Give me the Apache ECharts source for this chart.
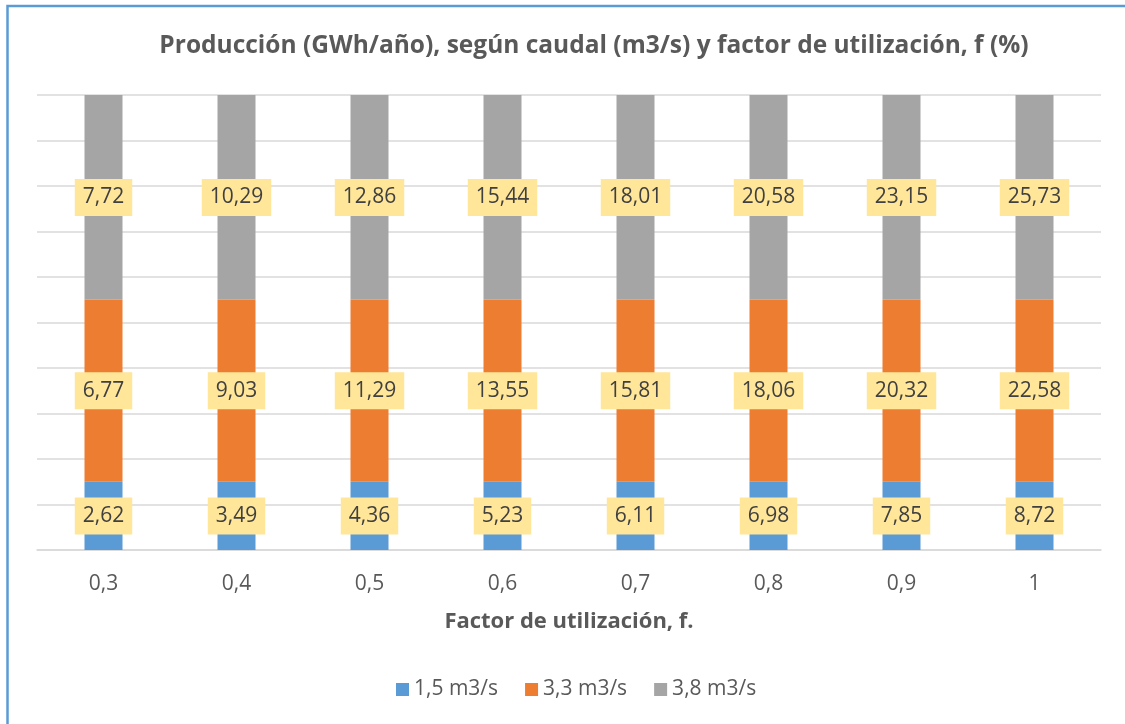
<!DOCTYPE html>
<html>
<head>
<meta charset="utf-8">
<script src="https://cdn.jsdelivr.net/npm/echarts@6/dist/echarts.min.js"></script>
<style>
  html, body { margin: 0; padding: 0; background: #fff; }
  #chart { width: 1125px; height: 724px; }
</style>
</head>
<body>
<div id="chart"></div>
<script>
// factor de utilizacion (categories)
var categories = ['0,3', '0,4', '0,5', '0,6', '0,7', '0,8', '0,9', '1']
var seriesNames = ['1,5 m3/s', '3,3 m3/s', '3,8 m3/s']

// segment heights as drawn in the picture (same for every column)
var height15 = [1.5, 1.5, 1.5, 1.5, 1.5, 1.5, 1.5, 1.5]
var height33 = [4, 4, 4, 4, 4, 4, 4, 4]
var height38 = [4.5, 4.5, 4.5, 4.5, 4.5, 4.5, 4.5, 4.5]

// produccion (GWh/año) shown in the labels
var prod15 = [2.62, 3.49, 4.36, 5.23, 6.11, 6.98, 7.85, 8.72]
var prod33 = [6.77, 9.03, 11.29, 13.55, 15.81, 18.06, 20.32, 22.58]
var prod38 = [7.72, 10.29, 12.86, 15.44, 18.01, 20.58, 23.15, 25.73]

var colors = ['#5B9BD5', '#ED7D31', '#A5A5A5']
var font = '"Open Sans", "Noto Sans", sans-serif'

function makeSeries(name, heights, prod, color) {
  return {
    name: name,
    type: 'bar',
    stack: 'total',
    barWidth: 38,
    data: heights,
    itemStyle: { color: color },
    label: {
      show: true,
      position: 'inside',
      backgroundColor: '#FFE699',
      padding: [8, 8, 8, 8],
      color: '#404040',
      fontFamily: font,
      fontSize: 21,
      formatter: function(p) {
        return prod[p.dataIndex].toFixed(2).replace('.', ',')
      }
    }
  }
}

var myChart = echarts.init(document.getElementById('chart'))
myChart.setOption({
  animation: false,
  color: colors,
  title: {
    text: 'Producción (GWh/año), según caudal (m3/s) y factor de utilización, f (%)',
    left: 589,
    top: 29,
    textAlign: 'center',
    textStyle: {
      fontFamily: font,
      fontSize: 24.5,
      fontWeight: 'bold',
      color: '#595959'
    }
  },
  legend: {
    bottom: 19,
    left: 391,
    icon: 'rect',
    itemWidth: 13,
    itemHeight: 13,
    itemGap: 27,
    textStyle: { fontFamily: font, fontSize: 21, color: '#595959' },
    data: seriesNames
  },
  grid: {
    left: 37,
    right: 24,
    top: 95,
    bottom: 174
  },
  xAxis: {
    type: 'category',
    data: categories,
    name: 'Factor de utilización, f.',
    nameLocation: 'middle',
    nameGap: 61,
    nameTextStyle: {
      fontFamily: font,
      fontSize: 22,
      fontWeight: 'bold',
      color: '#595959'
    },
    axisLine: { lineStyle: { color: '#D9D9D9', width: 1.5 } },
    axisTick: { length: 7, lineStyle: { color: '#D9D9D9', width: 1.5 } },
    axisLabel: {
      margin: 24,
      fontFamily: font,
      fontSize: 21,
      color: '#595959'
    }
  },
  yAxis: {
    type: 'value',
    min: 0,
    max: 10,
    interval: 1,
    axisLabel: { show: false },
    axisLine: { show: false },
    axisTick: { show: false },
    splitLine: { lineStyle: { color: '#D9D9D9', width: 1.5 } }
  },
  graphic: [{
    type: 'polyline',
    shape: { points: [[7.5, 724], [7.5, 6], [1125, 6]] },
    style: { stroke: '#5B9BD5', lineWidth: 2.5, fill: null }
  }],
  series: [
    makeSeries(seriesNames[0], height15, prod15, colors[0]),
    makeSeries(seriesNames[1], height33, prod33, colors[1]),
    makeSeries(seriesNames[2], height38, prod38, colors[2])
  ]
})
</script>
</body>
</html>
